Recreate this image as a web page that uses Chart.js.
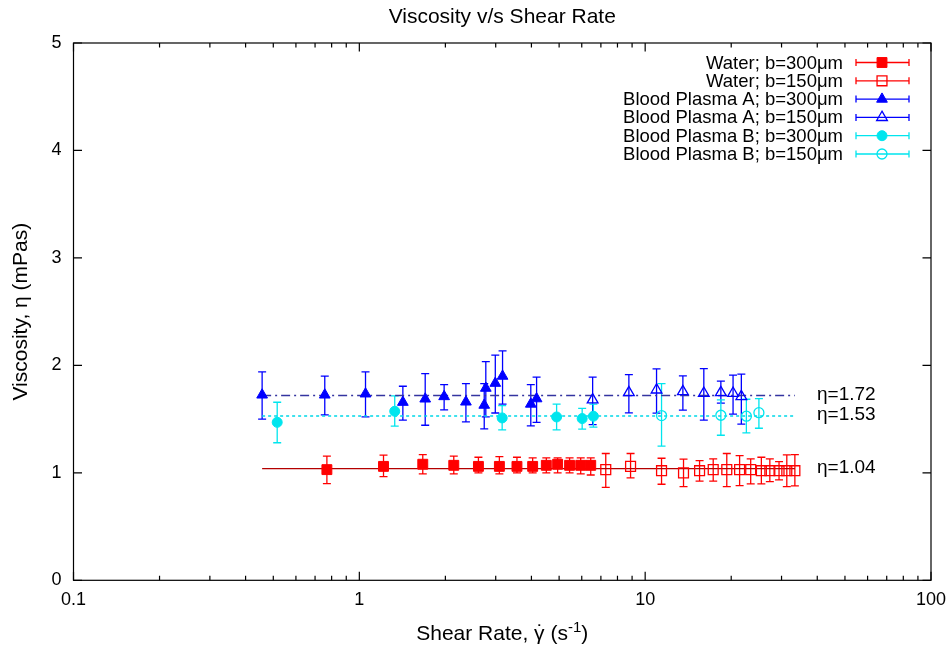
<!DOCTYPE html>
<html>
<head>
<meta charset="utf-8">
<script src="https://cdn.jsdelivr.net/npm/chart.js@4"></script>
<style>
  html, body { margin: 0; padding: 0; background: #fff; }
  #wrap { width: 950px; height: 649px; }
</style>
</head>
<body>
<div id="wrap"><canvas id="chart"></canvas></div>
<script>
// values
const xTicks = [0.1, 1, 10, 100];
const yTicks = [0, 1, 2, 3, 4, 5];

const water300X  = [0.77, 1.215, 1.667, 2.14, 2.61, 3.09, 3.56, 4.04, 4.51, 4.94, 5.44, 5.95, 6.45];
const water300Y  = [1.03, 1.06, 1.08, 1.07, 1.06, 1.06, 1.06, 1.06, 1.07, 1.08, 1.07, 1.07, 1.07];
const water300Lo = [0.90, 0.965, 0.99, 0.99, 1.00, 0.99, 1.00, 1.00, 1.00, 1.00, 1.00, 0.99, 0.98];
const water300Hi = [1.155, 1.165, 1.17, 1.155, 1.145, 1.15, 1.145, 1.14, 1.14, 1.14, 1.14, 1.14, 1.14];

const water150X  = [7.28, 8.89, 11.41, 13.62, 15.5, 17.3, 19.3, 21.4, 23.4, 25.5, 27.3, 29.4, 31.3, 33.4];
const water150Y  = [1.03, 1.06, 1.02, 1.00, 1.02, 1.03, 1.03, 1.03, 1.03, 1.02, 1.02, 1.02, 1.02, 1.02];
const water150Lo = [0.865, 0.953, 0.894, 0.872, 0.922, 0.922, 0.872, 0.881, 0.897, 0.897, 0.918, 0.934, 0.872, 0.878];
const water150Hi = [1.18, 1.18, 1.136, 1.127, 1.114, 1.13, 1.18, 1.16, 1.13, 1.145, 1.13, 1.105, 1.167, 1.17];

const plasmaA300X  = [0.457, 0.757, 1.051, 1.42, 1.70, 1.98, 2.36, 2.735, 2.77, 2.99, 3.17, 3.98, 4.17];
const plasmaA300Y  = [1.725, 1.725, 1.735, 1.657, 1.688, 1.71, 1.66, 1.63, 1.788, 1.834, 1.90, 1.64, 1.69];
const plasmaA300Lo = [1.50, 1.54, 1.52, 1.49, 1.443, 1.586, 1.474, 1.41, 1.52, 1.557, 1.64, 1.437, 1.47];
const plasmaA300Hi = [1.94, 1.90, 1.94, 1.806, 1.924, 1.82, 1.83, 1.83, 2.035, 2.095, 2.135, 1.82, 1.89];

const plasmaA150X  = [6.55, 8.77, 10.96, 13.55, 16.04, 18.4, 20.3, 21.7];
const plasmaA150Y  = [1.679, 1.747, 1.772, 1.756, 1.741, 1.747, 1.741, 1.71];
const plasmaA150Lo = [1.449, 1.558, 1.555, 1.583, 1.49, 1.648, 1.546, 1.453];
const plasmaA150Hi = [1.89, 1.914, 1.967, 1.902, 1.97, 1.853, 1.909, 1.918];

const plasmaB300X  = [0.516, 1.33, 3.16, 4.90, 6.02, 6.59];
const plasmaB300Y  = [1.47, 1.573, 1.511, 1.52, 1.505, 1.527];
const plasmaB300Lo = [1.28, 1.434, 1.40, 1.40, 1.406, 1.425];
const plasmaB300Hi = [1.657, 1.716, 1.626, 1.64, 1.60, 1.64];

const plasmaB150X  = [11.41, 18.4, 22.6, 25.0];
const plasmaB150Y  = [1.533, 1.536, 1.527, 1.56];
const plasmaB150Lo = [1.248, 1.35, 1.372, 1.415];
const plasmaB150Hi = [1.83, 1.679, 1.685, 1.69];

const fitX = [0.457, 33.4];
const fitWater = 1.04;
const fitPlasmaA = 1.72;
const fitPlasmaB = 1.53;

const RED = "#ff0000", BLUE = "#0000ff", CYAN = "#00e5ee";
const FONT = '"Liberation Sans", Arial, sans-serif';

function points(xs, ys) {
    return xs.map((x, i) => ({ x: x, y: ys[i] }));
}

function series(label, xs, ys, lo, hi, color, style, open) {
    return {
        label: label,
        data: points(xs, ys),
        lo: lo,
        hi: hi,
        barColor: color,
        pointStyle: style,
        pointRadius: style === "circle" ? 5 : (style === "rect" ? 7 : 6.2),
        pointHoverRadius: style === "circle" ? 5 : 7,
        pointBackgroundColor: open ? "rgba(0,0,0,0)" : color,
        pointBorderColor: color,
        pointBorderWidth: open ? 1.3 : 1,
        showLine: false
    };
}

function fitLine(value, color, dash, width) {
    return {
        label: "fit",
        data: fitX.map(x => ({ x: x, y: value })),
        showLine: true,
        pointRadius: 0,
        borderColor: color,
        borderWidth: width,
        borderDash: dash,
        fill: false
    };
}

const datasets = [
    series("Water; b=300\u03bcm", water300X, water300Y, water300Lo, water300Hi, RED, "rect", false),
    series("Water; b=150\u03bcm", water150X, water150Y, water150Lo, water150Hi, RED, "rect", true),
    series("Blood Plasma A; b=300\u03bcm", plasmaA300X, plasmaA300Y, plasmaA300Lo, plasmaA300Hi, BLUE, "triangle", false),
    series("Blood Plasma A; b=150\u03bcm", plasmaA150X, plasmaA150Y, plasmaA150Lo, plasmaA150Hi, BLUE, "triangle", true),
    series("Blood Plasma B; b=300\u03bcm", plasmaB300X, plasmaB300Y, plasmaB300Lo, plasmaB300Hi, CYAN, "circle", false),
    series("Blood Plasma B; b=150\u03bcm", plasmaB150X, plasmaB150Y, plasmaB150Lo, plasmaB150Hi, CYAN, "circle", true),
    fitLine(fitWater, "#b40000", [], 1.3),
    fitLine(fitPlasmaA, "#3434a0", [9, 4, 2, 4], 1.6),
    fitLine(fitPlasmaB, "#00d8e8", [3, 3], 1.5)
];

const fitLabels = [
    { text: "\u03b7=" + fitPlasmaA.toFixed(2), value: fitPlasmaA },
    { text: "\u03b7=" + fitPlasmaB.toFixed(2), value: fitPlasmaB },
    { text: "\u03b7=" + fitWater.toFixed(2), value: fitWater }
];

// x axis title in pieces: gamma gets a dot, s gets a -1 exponent
function drawXTitle(ctx, cx, baseY) {
    let big = "21px " + FONT, small = "15px " + FONT;
    ctx.font = big;
    let w1 = ctx.measureText("Shear Rate, ").width;
    let wg = ctx.measureText("\u03b3").width;
    let w2 = ctx.measureText(" (s").width;
    let w4 = ctx.measureText(")").width;
    ctx.font = small;
    let w3 = ctx.measureText("-1").width;
    let x = cx - (w1 + wg + w2 + w3 + w4) / 2;
    ctx.textAlign = "left";
    ctx.textBaseline = "alphabetic";
    ctx.font = big;
    ctx.fillText("Shear Rate, ", x, baseY); x += w1;
    ctx.fillText("\u03b3", x, baseY);
    ctx.textAlign = "center";
    ctx.fillText("\u02d9", x + wg / 2 + 1, baseY - 1);
    ctx.textAlign = "left";
    x += wg;
    ctx.fillText(" (s", x, baseY); x += w2;
    ctx.font = small;
    ctx.fillText("-1", x, baseY - 8); x += w3;
    ctx.font = big;
    ctx.fillText(")", x, baseY);
}

// gnuplot-like frame, inward ticks, error bars, key and labels
const gnuplotLook = {
    id: "gnuplotLook",
    beforeDatasetsDraw(chart) {
        let { ctx, chartArea, scales } = chart;
        ctx.save();
        ctx.beginPath();
        ctx.rect(chartArea.left, chartArea.top, chartArea.right - chartArea.left, chartArea.bottom - chartArea.top);
        ctx.clip();
        chart.data.datasets.forEach(ds => {
            if (!ds.lo) return;
            ctx.strokeStyle = ds.barColor;
            ctx.lineWidth = 1.3;
            ds.data.forEach((p, j) => {
                let px = scales.x.getPixelForValue(p.x);
                let y1 = scales.y.getPixelForValue(ds.lo[j]);
                let y2 = scales.y.getPixelForValue(ds.hi[j]);
                ctx.beginPath();
                ctx.moveTo(px, y1); ctx.lineTo(px, y2);
                ctx.moveTo(px - 4, y1); ctx.lineTo(px + 4, y1);
                ctx.moveTo(px - 4, y2); ctx.lineTo(px + 4, y2);
                ctx.stroke();
            });
        });
        ctx.restore();
    },
    afterDraw(chart) {
        let { ctx, chartArea: a, scales } = chart;
        ctx.save();
        ctx.strokeStyle = "#000";
        ctx.lineWidth = 1.2;
        ctx.strokeRect(a.left, a.top, a.right - a.left, a.bottom - a.top);

        ctx.beginPath();
        yTicks.forEach(v => {
            let py = scales.y.getPixelForValue(v);
            ctx.moveTo(a.left, py); ctx.lineTo(a.left + 8.5, py);
            ctx.moveTo(a.right, py); ctx.lineTo(a.right - 8.5, py);
        });
        xTicks.forEach((d, i) => {
            let px = scales.x.getPixelForValue(d);
            ctx.moveTo(px, a.bottom); ctx.lineTo(px, a.bottom - 8.5);
            ctx.moveTo(px, a.top); ctx.lineTo(px, a.top + 8.5);
            if (i === xTicks.length - 1) return;
            for (let k = 2; k <= 9; k++) {
                let mx = scales.x.getPixelForValue(d * k);
                ctx.moveTo(mx, a.bottom); ctx.lineTo(mx, a.bottom - 4.5);
                ctx.moveTo(mx, a.top); ctx.lineTo(mx, a.top + 4.5);
            }
        });
        ctx.stroke();

        ctx.fillStyle = "#000";

        // title
        ctx.font = "21px " + FONT;
        ctx.textAlign = "center";
        ctx.textBaseline = "alphabetic";
        ctx.fillText("Viscosity v/s Shear Rate", (a.left + a.right) / 2, 23);

        // axis titles
        drawXTitle(ctx, (a.left + a.right) / 2, 640);
        ctx.save();
        ctx.translate(27, (a.top + a.bottom) / 2);
        ctx.rotate(-Math.PI / 2);
        ctx.font = "21px " + FONT;
        ctx.textAlign = "center";
        ctx.fillText("Viscosity, \u03b7 (mPas)", 0, 0);
        ctx.restore();

        // fit value labels
        ctx.font = "19px " + FONT;
        ctx.textAlign = "left";
        ctx.textBaseline = "middle";
        fitLabels.forEach(l => {
            ctx.fillText(l.text, 817, scales.y.getPixelForValue(l.value) - 1);
        });

        // key
        ctx.font = "18.5px " + FONT;
        let rowY = 62.5;
        chart.data.datasets.forEach(ds => {
            if (!ds.lo) return;
            ctx.fillStyle = "#000";
            ctx.textAlign = "right";
            ctx.fillText(ds.label, 843, rowY + 1);
            ctx.strokeStyle = ds.barColor;
            ctx.lineWidth = 1.3;
            ctx.beginPath();
            ctx.moveTo(856, rowY); ctx.lineTo(909, rowY);
            ctx.moveTo(856, rowY - 3.5); ctx.lineTo(856, rowY + 3.5);
            ctx.moveTo(909, rowY - 3.5); ctx.lineTo(909, rowY + 3.5);
            ctx.stroke();
            ctx.fillStyle = ds.pointBackgroundColor;
            ctx.lineWidth = ds.pointBorderWidth;
            Chart.helpers.drawPoint(ctx, {
                pointStyle: ds.pointStyle,
                radius: ds.pointRadius,
                rotation: 0,
                borderWidth: ds.pointBorderWidth
            }, 882, rowY);
            rowY += 18.3;
        });
        ctx.restore();
    }
};

new Chart(document.getElementById("chart"), {
    type: "scatter",
    data: { datasets: datasets },
    plugins: [gnuplotLook],
    options: {
        responsive: true,
        maintainAspectRatio: false,
        animation: false,
        events: [],
        layout: { padding: { top: 43, right: 19, left: 0, bottom: 0 } },
        plugins: {
            legend: { display: false },
            tooltip: { enabled: false },
            title: { display: false }
        },
        scales: {
            x: {
                type: "logarithmic",
                min: 0.1,
                max: 100,
                afterBuildTicks: s => { s.ticks = xTicks.map(v => ({ value: v })); },
                afterFit: s => { s.height = 68.7; s.paddingLeft = 0; s.paddingRight = 0; },
                grid: { display: false, drawTicks: false },
                border: { display: false },
                ticks: {
                    color: "#000",
                    padding: 9,
                    maxRotation: 0,
                    autoSkip: false,
                    font: { family: FONT, size: 18 },
                    callback: v => String(v)
                }
            },
            y: {
                type: "linear",
                min: 0,
                max: 5,
                afterBuildTicks: s => { s.ticks = yTicks.map(v => ({ value: v })); },
                afterFit: s => { s.width = 73.5; s.paddingTop = 0; s.paddingBottom = 0; },
                grid: { display: false, drawTicks: false },
                border: { display: false },
                ticks: {
                    color: "#000",
                    padding: 12,
                    font: { family: FONT, size: 18 }
                }
            }
        }
    }
});
</script>
</body>
</html>
